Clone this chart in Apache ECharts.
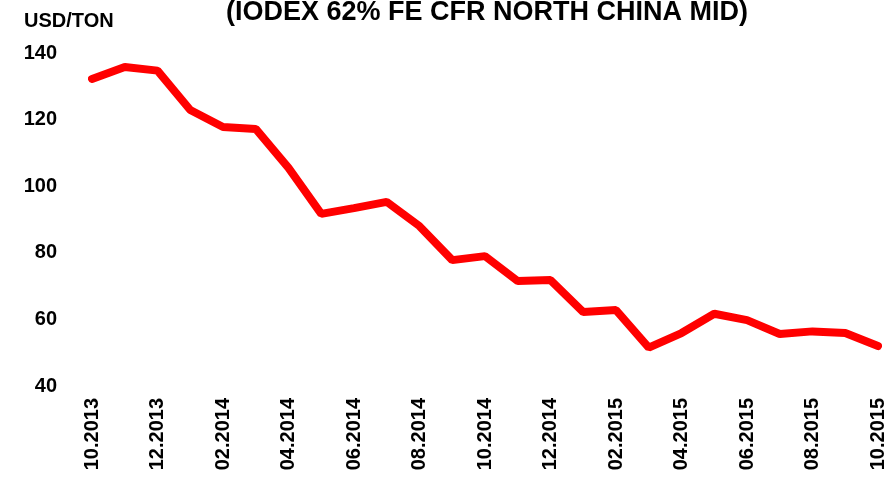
<!DOCTYPE html>
<html>
<head>
<meta charset="utf-8">
<script src="https://cdn.jsdelivr.net/npm/echarts@6/dist/echarts.min.js"></script>
<style>
  html, body { margin: 0; padding: 0; background: #fff; }
  #chart { width: 895px; height: 484px; }
</style>
</head>
<body>
<div id="chart"></div>
<script>
// 月份 (10.2013 - 10.2015)
var months = ['10.2013', '11.2013', '12.2013', '01.2014', '02.2014', '03.2014', '04.2014',
  '05.2014', '06.2014', '07.2014', '08.2014', '09.2014', '10.2014', '11.2014', '12.2014',
  '01.2015', '02.2015', '03.2015', '04.2015', '05.2015', '06.2015', '07.2015', '08.2015',
  '09.2015', '10.2015'];
// USD/TON
var prices = [132.2, 135.8, 134.7, 122.9, 117.8, 117.2, 105.5, 91.7, 93.4, 95.3, 88.0,
  77.8, 79.0, 71.5, 71.8, 62.2, 62.8, 51.5, 55.9, 61.7, 59.8, 55.6, 56.4, 55.9, 52.0];
var yTicks = [40, 60, 80, 100, 120, 140];

var myChart = echarts.init(document.getElementById('chart'));
var option = {
    animation: false,
    title: {
        text: '(IODEX 62% FE CFR NORTH CHINA MID)',
        left: 221,
        top: -6,
        textStyle: {
            fontFamily: 'Liberation Sans',
            fontWeight: 'bold',
            fontSize: 27,
            color: '#000'
        }
    },
    grid: {
        left: 92,
        right: 17,
        top: 53,
        bottom: 98
    },
    xAxis: {
        type: 'category',
        boundaryGap: false,
        data: months,
        axisLine: { show: false },
        axisTick: { show: false },
        axisLabel: {
            interval: 1,
            rotate: 90,
            margin: 12,
            color: '#000',
            fontFamily: 'Liberation Sans',
            fontWeight: 'bold',
            fontSize: 20
        }
    },
    yAxis: {
        type: 'value',
        min: yTicks[0],
        max: yTicks[yTicks.length - 1],
        interval: 20,
        name: 'USD/TON',
        nameLocation: 'end',
        nameGap: 22,
        nameTextStyle: {
            align: 'left',
            padding: [0, 0, 0, -68],
            color: '#000',
            fontFamily: 'Liberation Sans',
            fontWeight: 'bold',
            fontSize: 20
        },
        axisLine: { show: false },
        axisTick: { show: false },
        splitLine: { show: false },
        axisLabel: {
            margin: 35,
            color: '#000',
            fontFamily: 'Liberation Sans',
            fontWeight: 'bold',
            fontSize: 20
        }
    },
    series: [{
        type: 'line',
        data: prices,
        showSymbol: false,
        symbol: 'none',
        lineStyle: {
            color: '#ff0000',
            width: 8,
            cap: 'round',
            join: 'bevel'
        }
    }]
};
option && myChart.setOption(option);
</script>
</body>
</html>
